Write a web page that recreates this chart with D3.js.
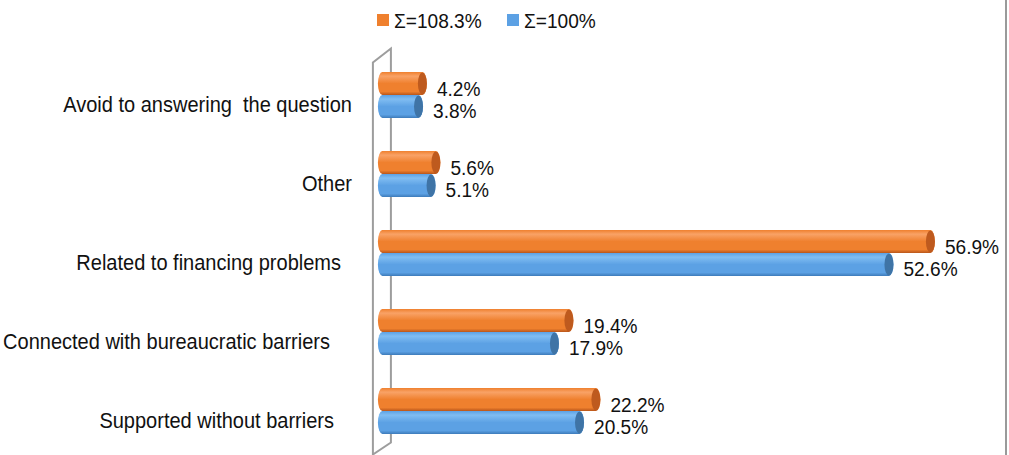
<!DOCTYPE html>
<html>
<head>
<meta charset="utf-8">
<script src="https://cdn.jsdelivr.net/npm/d3@7"></script>
<style>
  body { margin: 0; background: #fff; }
  svg { display: block; font-family: "Liberation Sans", Arial, sans-serif; }
</style>
</head>
<body>
<svg width="1009" height="455"></svg>
<script>
// data
const categories = [
    'Avoid to answering  the question',
    'Other',
    'Related to financing problems',
    'Connected with bureaucratic barriers',
    'Supported without barriers'
]
const seriesNames = ['Σ=108.3%', 'Σ=100%']
const orangeValues = [4.2, 5.6, 56.9, 19.4, 22.2]
const blueValues = [3.8, 5.1, 52.6, 17.9, 20.5]

// small per-label horizontal nudges (layout only)
const labelNudge = [0, 0, -11, -22, -18]

const svg = d3.select('svg')
const width = 1009, height = 455
const squeeze = 0.91   // text in the picture is a bit condensed

const colors = {
    orange: { top: '#F9A266', mid: '#EF802E', bot: '#B9561A', cap: '#BE5A1E' },
    blue:   { top: '#80BDF2', mid: '#5CA1E4', bot: '#3D7BBA', cap: '#3F74A6' }
}

const defs = svg.append('defs')
Object.entries(colors).forEach(([k, c]) => {
    const g = defs.append('linearGradient')
        .attr('id', 'grad-' + k)
        .attr('x1', 0).attr('y1', 0).attr('x2', 0).attr('y2', 1)
    g.append('stop').attr('offset', '0%').attr('stop-color', c.mid)
    g.append('stop').attr('offset', '18%').attr('stop-color', c.top)
    g.append('stop').attr('offset', '50%').attr('stop-color', c.mid)
    g.append('stop').attr('offset', '85%').attr('stop-color', c.mid)
    g.append('stop').attr('offset', '100%').attr('stop-color', c.bot)
})

const x = d3.scaleLinear()
    .domain([0, 60])
    .range([386.4, 964.8])

const y = d3.scaleBand()
    .domain(categories)
    .range([55.5, 450.5])
    .paddingInner(0.418)
    .paddingOuter(0.209)

const sub = d3.scaleBand()
    .domain(['orange', 'blue'])
    .range([0, y.bandwidth()])

const rows = categories.map((c, i) => ({
    cat: c, i: i,
    bars: [
        { key: 'orange', value: orangeValues[i] },
        { key: 'blue', value: blueValues[i] }
    ]
}))

// right border line
svg.append('line')
    .attr('x1', 1006).attr('x2', 1006)
    .attr('y1', 0).attr('y2', height)
    .attr('stroke', '#9a9a9a').attr('stroke-width', 2)

// 3D wall on the left
const wallFront = x(0) - 13.5, wallBack = x(0) + 4.5
const wallTop = y.range()[0] + 7, wallBottom = y.range()[1] - 8
svg.append('path')
    .attr('d', `M${wallFront},${height + 2} L${wallFront},${wallTop} L${wallBack},${wallTop - 14}
                L${wallBack},${wallBottom} L${wallFront},${wallBottom + 12}`)
    .attr('fill', 'none')
    .attr('stroke', '#9d9d9d')
    .attr('stroke-width', 2)

// cylinders
const rx = 4.5
const barStart = x(0) - 8.5
const groups = svg.selectAll('g.row').data(rows)
    .enter().append('g')
    .attr('class', 'row')
    .attr('transform', d => `translate(0,${y(d.cat)})`)

const bars = groups.selectAll('g.bar').data(d => d.bars)
    .enter().append('g')
    .attr('class', 'bar')

bars.append('path')
    .attr('d', d => {
        const t = sub(d.key), h = sub.bandwidth(), b = t + h
        const x1 = x(d.value) - rx
        return `M${barStart + rx},${t} L${x1},${t} A${rx},${h / 2} 0 0 1 ${x1},${b}
                L${barStart + rx},${b} A${rx},${h / 2} 0 0 1 ${barStart + rx},${t} Z`
    })
    .attr('fill', d => `url(#grad-${d.key})`)

bars.append('ellipse')
    .attr('cx', d => x(d.value) - rx)
    .attr('cy', d => sub(d.key) + sub.bandwidth() / 2)
    .attr('rx', rx)
    .attr('ry', sub.bandwidth() / 2 - 0.5)
    .attr('fill', d => colors[d.key].cap)

// value labels
bars.append('text')
    .attr('transform', d => `translate(${x(d.value) + 10},${sub(d.key) + sub.bandwidth() / 2 + 12}) scale(${squeeze},1)`)
    .attr('font-size', 21)
    .attr('fill', '#111')
    .text(d => d.value.toFixed(1) + '%')

// category labels
groups.append('text')
    .attr('transform', d => `translate(${352 + labelNudge[d.i]},${y.bandwidth() / 2 + 17}) scale(${squeeze},1)`)
    .attr('text-anchor', 'end')
    .attr('font-size', 22)
    .attr('fill', '#111')
    .text(d => d.cat.replace(/ /g, '\u00a0'))

// legend
const legend = svg.append('g')
const legendX = [377, 507]
seriesNames.forEach((name, i) => {
    const key = i === 0 ? 'orange' : 'blue'
    legend.append('rect')
        .attr('x', legendX[i]).attr('y', 14)
        .attr('width', 12).attr('height', 12)
        .attr('fill', colors[key].mid)
    legend.append('text')
        .attr('transform', `translate(${legendX[i] + 17},28) scale(${squeeze},1)`)
        .attr('font-size', 21)
        .attr('fill', '#111')
        .text(name)
})
</script>
</body>
</html>
